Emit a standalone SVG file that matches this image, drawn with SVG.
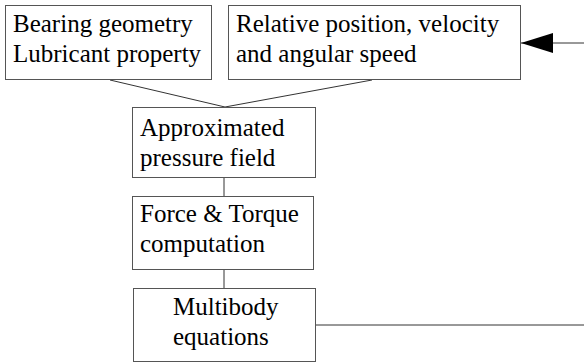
<svg xmlns="http://www.w3.org/2000/svg" width="584" height="363" viewBox="0 0 584 363">
<style>
text{font-family:'Liberation Serif',serif;font-size:25px;fill:#000}
.box{fill:#fff;stroke:#555;stroke-width:1}
.c{stroke:#333;stroke-width:1;fill:none}
</style>
<defs>
<marker id="ah" markerWidth="32" markerHeight="20" refX="32" refY="10" orient="auto" markerUnits="userSpaceOnUse">
<path d="M0,0 L32,10 L0,20 Z" fill="#000"/>
</marker>
</defs>
<rect width="584" height="363" fill="#fff"/>
<g id="connectors">
<path class="c" d="M110,80 L225,107 L372,80"/>
<path class="c" d="M224,178 L224,196"/>
<path class="c" d="M224,270 L224,288"/>
<path class="c" d="M316,325 L584,325"/>
<path class="c" d="M584,43 L521,43" marker-end="url(#ah)"/>
</g>
<g id="bearing">
<rect class="box" x="5.5" y="5.5" width="206" height="74"/>
<text x="13" y="32">Bearing geometry</text>
<text x="13" y="62">Lubricant property</text>
</g>
<g id="relative">
<rect class="box" x="228.5" y="5.5" width="292" height="74"/>
<text x="236" y="32">Relative position, velocity</text>
<text x="236" y="62">and angular speed</text>
</g>
<g id="pressure">
<rect class="box" x="132.5" y="107.5" width="183" height="70"/>
<text x="140" y="136">Approximated</text>
<text x="140" y="166">pressure field</text>
</g>
<g id="force">
<rect class="box" x="132.5" y="196.5" width="181" height="73"/>
<text x="140" y="222">Force &amp; Torque</text>
<text x="140" y="252">computation</text>
</g>
<g id="multibody">
<rect class="box" x="133.5" y="288.5" width="182" height="73"/>
<text x="173" y="315">Multibody</text>
<text x="173" y="345">equations</text>
</g>
</svg>
